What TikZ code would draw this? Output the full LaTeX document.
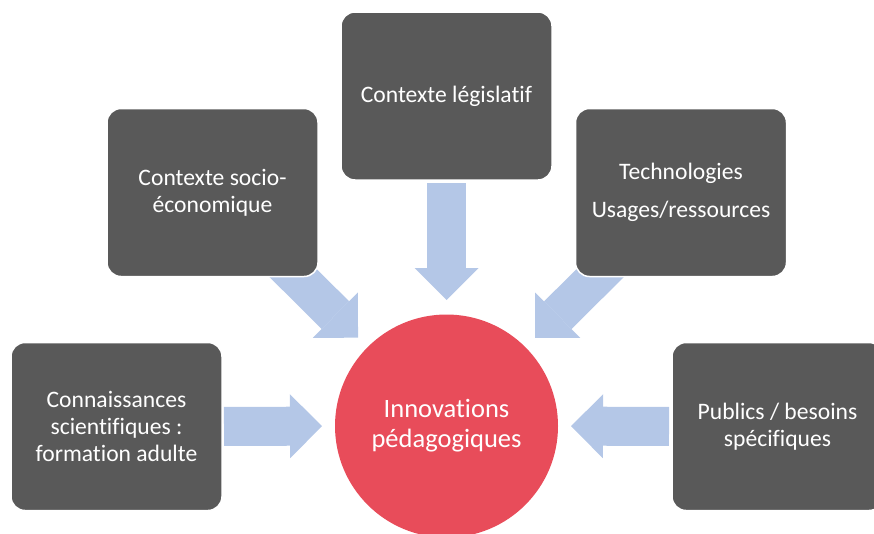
\documentclass[tikz,border=0pt]{standalone}
\usepackage{fontspec}
\setmainfont{Carlito}[Ligatures=NoCommon]
\usepackage{tikz}
\usetikzlibrary{arrows.meta,backgrounds}
\definecolor{cardgray}{HTML}{595959}
\definecolor{corered}{HTML}{E84C5A}
\definecolor{flowblue}{HTML}{B4C7E7}
\tikzset{
  card/.style={fill=cardgray, draw=white, line width=1.5pt, rounded corners=14pt,
    minimum width=211pt, minimum height=168pt, inner sep=0pt, outer sep=0pt,
    text=white, align=center, font=\fontsize{23.6}{27}\selectfont},
  core/.style={circle, fill=corered, minimum size=223pt, inner sep=0pt, outer sep=0pt,
    text=white, align=center, font=\fontsize{26.5}{30}\selectfont},
  flow/.style={draw=flowblue, line width=39pt,
    -{Triangle[width=64pt,length=32pt,line width=0pt]}},
}

\begin{document}
\begin{tikzpicture}[x=1pt,y=-1pt]
  \useasboundingbox (0,0) rectangle (874,533);
  \clip (0,0) rectangle (874,533);

  \node[card] (legis) at (446.5,96) {Contexte législatif};
  \node[card] (socio) at (212.5,192.5) {Contexte socio-\\économique};
  \node[card] (techno) at (681,192.5) {Technologies\\[11pt]Usages/ressources};
  \node[card] (savoirs) at (116.5,426.5) {Connaissances\\scientifiques :\\formation adulte};
  \node[card] (publics) at (777.5,426.5) {Publics / besoins\\spécifiques};
  \node[core] (innov) at (446.5,426) {Innovations\\pédagogiques};

  % block arrows go under the cards
  \begin{scope}[on background layer]
    \draw[flow, shorten <=3pt, shorten >=14.5pt] (legis) -- (innov);
    \draw[flow, shorten <=-25pt, shorten >=13.5pt] (socio) -- (innov);
    \draw[flow, shorten <=-25pt, shorten >=13.5pt] (techno) -- (innov);
    \draw[flow, shorten <=2pt, shorten >=13pt] (savoirs) -- (innov);
    \draw[flow, shorten <=3pt, shorten >=13pt] (publics) -- (innov);
  \end{scope}
\end{tikzpicture}
\end{document}
